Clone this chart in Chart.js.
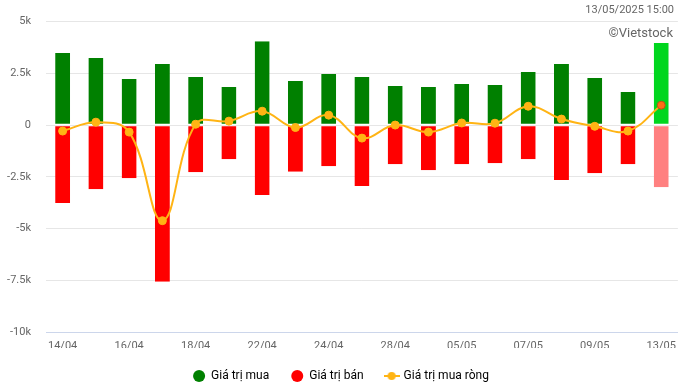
<!DOCTYPE html>
<html>
<head>
    <meta charset='UTF-8'>
    <script src="https://cdn.jsdelivr.net/npm/chart.js"></script>
    <style>
        body { margin: 0; background: #fff; font-family: Roboto, sans-serif; }
        #wrap { position: relative; width: 684px; height: 388px; }
        #stamp { position: absolute; right: 10px; top: 3px; font-size: 11px; color: #666; }
        #credit { position: absolute; right: 11px; top: 25px; font-size: 13px; color: #666; }
    </style>
</head>
<title>Giao dich</title>

<body>
    <div id="wrap">
        <canvas id="myChart" width="684" height="388"></canvas>
        <div id="stamp">13/05/2025 15:00</div>
        <div id="credit">©Vietstock</div>
    </div>
    <script>
        // ty dong
        const dates = ['14/04', '15/04', '16/04', '17/04', '18/04', '21/04', '22/04', '23/04', '24/04', '25/04',
            '28/04', '29/04', '05/05', '06/05', '07/05', '08/05', '09/05', '12/05', '13/05'];
        const buyValues = [3480, 3240, 2230, 2950, 2320, 1840, 4050, 2130, 2470, 2320,
            1890, 1840, 1990, 1940, 2560, 2950, 2270, 1600, 3960];
        const sellValues = [-3770, -3100, -2570, -7570, -2280, -1650, -3380, -2250, -1990, -2950,
            -1890, -2180, -1890, -1850, -1650, -2660, -2330, -1890, -3000];
        const netValues = [-290, 140, -340, -4620, 40, 190, 670, -120, 480, -630,
            0, -340, 100, 90, 910, 290, -60, -290, 960];
        const yTicks = [5000, 2500, 0, -2500, -5000, -7500, -10000];

        const last = dates.length - 1;
        const buyColors = dates.map((d, i) => i == last ? 'rgb(0,214,30)' : 'rgb(0,128,0)');
        const sellColors = dates.map((d, i) => i == last ? 'rgb(255,128,128)' : 'rgb(255,0,0)');
        const dotColors = dates.map((d, i) => i == last ? 'rgb(255,110,20)' : 'rgb(255,180,20)');
        const dotBorders = dates.map((d, i) => i == last ? 'rgb(190,80,20)' : 'rgb(255,180,20)');

        // legend icon for line series
        const lineIcon = document.createElement('canvas');
        lineIcon.width = 16; lineIcon.height = 10;
        const ic = lineIcon.getContext('2d');
        ic.strokeStyle = 'rgb(255,180,20)'; ic.lineWidth = 2;
        ic.beginPath(); ic.moveTo(0, 5); ic.lineTo(16, 5); ic.stroke();
        ic.fillStyle = 'rgb(255,180,20)';
        ic.beginPath(); ic.arc(8, 5, 4, 0, Math.PI * 2); ic.fill();

        const data = {
            labels: dates,
            datasets: [{
                type: 'bar',
                label: 'Giá trị mua',
                data: buyValues,
                backgroundColor: buyColors,
                borderColor: '#fff',
                borderWidth: { top: 0, bottom: 0.8, left: 0, right: 0 },
                borderSkipped: false,
                grouped: false,
                barPercentage: 0.45,
                categoryPercentage: 1,
                order: 2
            }, {
                type: 'bar',
                label: 'Giá trị bán',
                data: sellValues,
                backgroundColor: sellColors,
                borderColor: '#fff',
                borderWidth: { top: 0.8, bottom: 0, left: 0, right: 0 },
                borderSkipped: false,
                grouped: false,
                barPercentage: 0.45,
                categoryPercentage: 1,
                order: 3
            }, {
                type: 'line',
                label: 'Giá trị mua ròng',
                data: netValues,
                borderColor: 'rgb(255,180,20)',
                borderWidth: 2,
                tension: 0.4,
                pointRadius: 4,
                pointBackgroundColor: dotColors,
                pointBorderColor: dotBorders,
                pointBorderWidth: 1,
                order: 1
            }]
        };

        const config = {
            data: data,
            options: {
                animation: false,
                responsive: false,
                layout: { padding: { top: 6, right: 5, left: 3, bottom: 0 } },
                plugins: {
                    tooltip: { enabled: false },
                    legend: {
                        position: 'bottom',
                        maxHeight: 40,
                        labels: {
                            usePointStyle: true,
                            boxHeight: 8.5,
                            padding: 22,
                            color: '#333',
                            font: { family: 'Roboto', size: 12 },
                            generateLabels: function (chart) {
                                return chart.data.datasets.map((ds, i) => ({
                                    text: ds.label,
                                    fillStyle: i == 0 ? 'rgb(0,128,0)' : i == 1 ? 'rgb(255,0,0)' : 'rgb(255,180,20)',
                                    strokeStyle: 'transparent',
                                    lineWidth: 0,
                                    pointStyle: i == 2 ? lineIcon : 'circle',
                                    datasetIndex: i,
                                    hidden: false
                                }));
                            }
                        }
                    }
                },
                scales: {
                    x: {
                        afterFit: function (s) { s.height = 16; },
                        grid: { display: false, drawTicks: false },
                        border: { color: '#ccd6eb' },
                        ticks: {
                            autoSkip: false,
                            maxRotation: 0,
                            padding: 8,
                            color: '#666',
                            font: { family: 'Roboto', size: 11 },
                            callback: function (v, i) { return i % 2 == 0 ? dates[i] : ''; }
                        }
                    },
                    y: {
                        min: -10000,
                        max: 5000,
                        afterFit: function (s) { s.width = 43; },
                        afterBuildTicks: function (s) { s.ticks = yTicks.map(v => ({ value: v })); },
                        grid: { color: '#e6e6e6', drawTicks: false },
                        border: { display: false },
                        ticks: {
                            padding: 15,
                            color: '#666',
                            font: { family: 'Roboto', size: 11 },
                            callback: function (v) { return v == 0 ? '0' : (v / 1000) + 'k'; }
                        }
                    }
                }
            }
        };
        const myChart = new Chart(
            document.getElementById('myChart'),
            config
        );
    </script>
</body>

</html>
